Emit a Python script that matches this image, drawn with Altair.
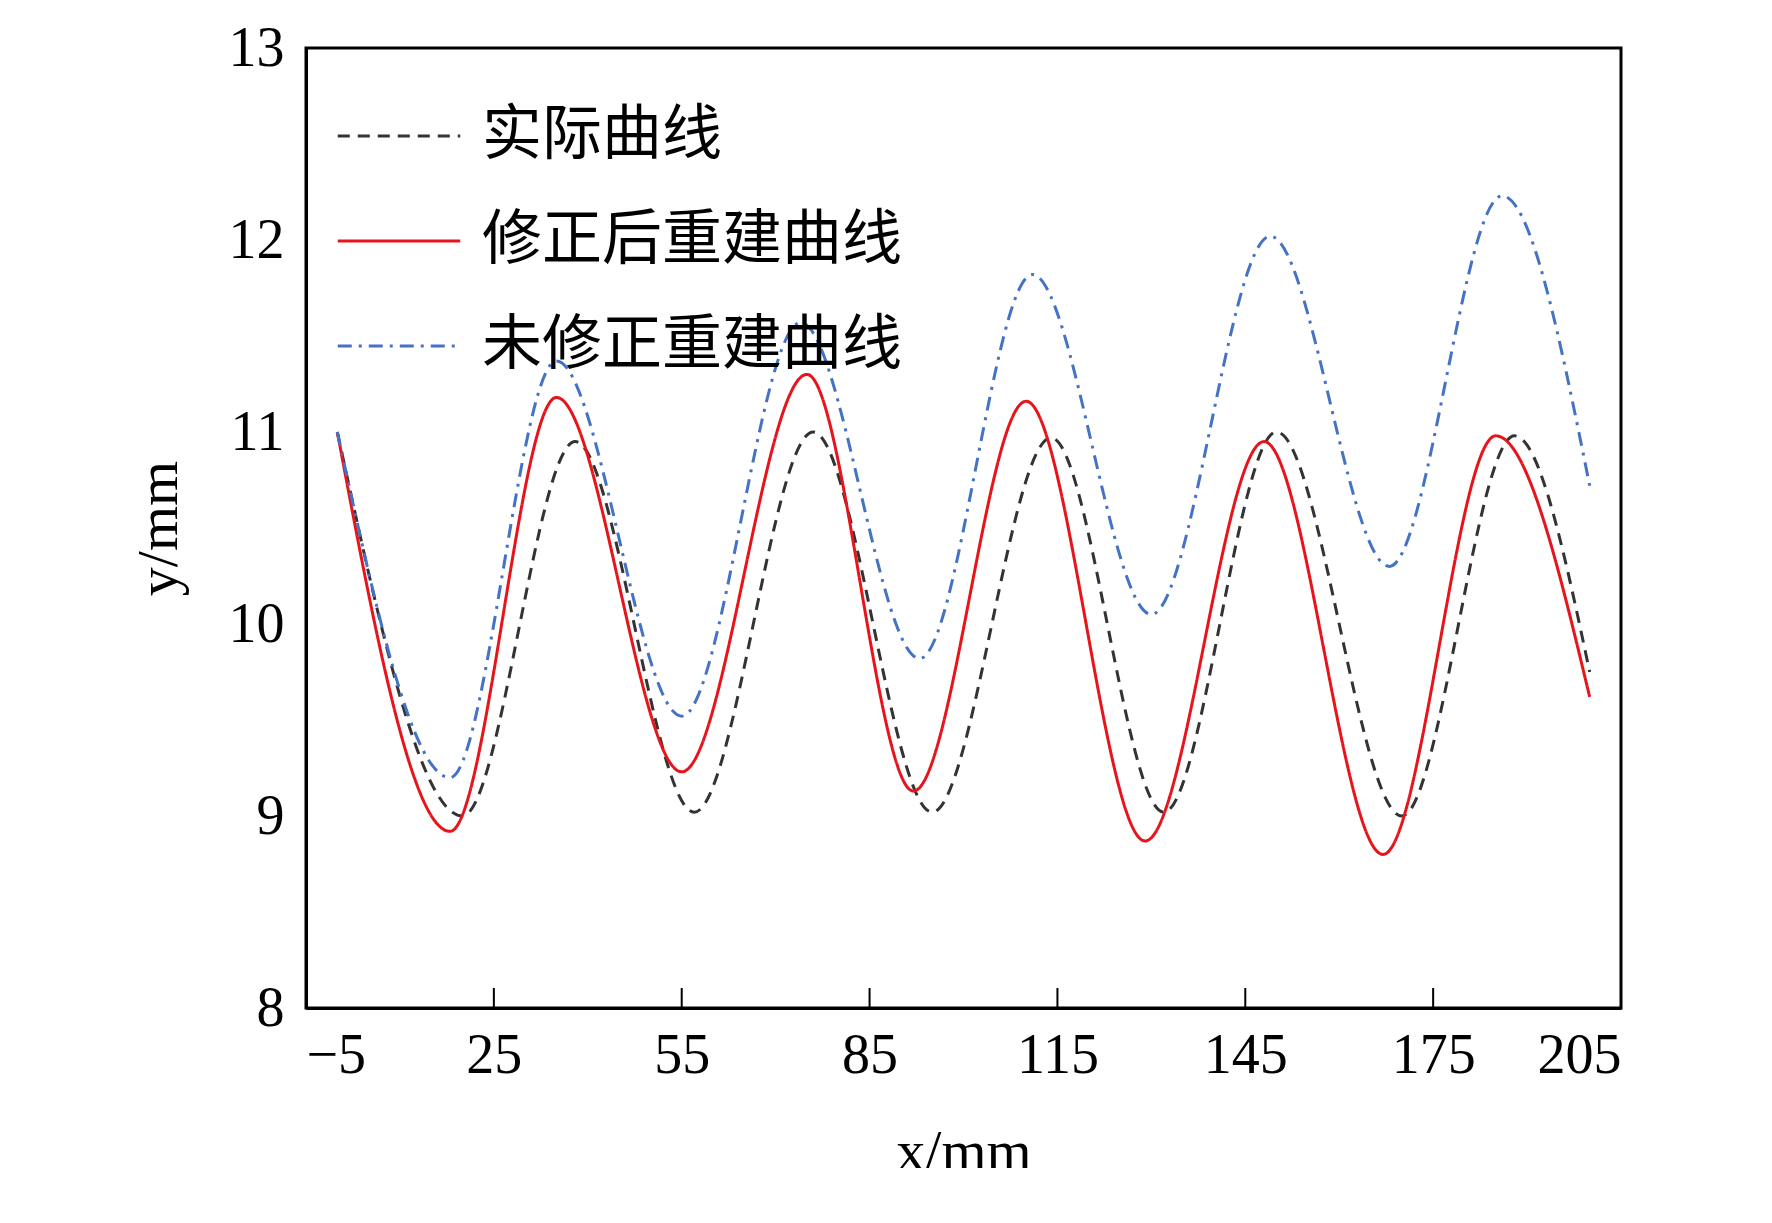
import pandas as pd
import altair as alt

# series (extrema + end points)
actual_x = [0, 20, 38, 57, 76, 95, 114, 132, 150, 170, 188, 200]
actual_y = [11.0, 9.0, 10.95, 9.02, 11.0, 9.02, 10.97, 9.02, 11.0, 9.0, 10.98, 9.75]
fixed_x = [0, 18, 35, 55, 75, 92, 110, 129, 148, 167, 185, 200]
fixed_y = [11.0, 8.92, 11.18, 9.23, 11.3, 9.13, 11.16, 8.87, 10.95, 8.8, 10.98, 9.62]
raw_x = [0, 18, 35, 55, 74, 93, 111, 130, 149, 168, 186, 200]
raw_y = [11.0, 9.2, 11.37, 9.52, 11.57, 9.82, 11.82, 10.05, 12.02, 10.3, 12.23, 10.72]
names = ['实际曲线', '修正后重建曲线', '未修正重建曲线']
x_ticks = [-5, 25, 55, 85, 115, 145, 175, 205]
y_ticks = [8, 9, 10, 11, 12, 13]

rows = []
for name, xs, ys in zip(names, [actual_x, fixed_x, raw_x], [actual_y, fixed_y, raw_y]):
    for i, (a, b) in enumerate(zip(xs, ys)):
        rows.append({'x': a, 'y': b, 'series': name, 'order': i})
df = pd.DataFrame(rows)

FONT = 'Liberation Serif, Noto Sans CJK SC'
W, H = 1315, 960

xs = alt.Scale(domain=[-5, 205], nice=False)
ys = alt.Scale(domain=[8, 13], nice=False)

lines = alt.Chart(df).mark_line(strokeWidth=3, interpolate='monotone').encode(
    x=alt.X('x:Q', scale=xs, title='x/mm',
            axis=alt.Axis(values=x_ticks, ticks=False, labelPadding=20, titlePadding=40)),
    y=alt.Y('y:Q', scale=ys, title='y/mm',
            axis=alt.Axis(values=y_ticks, ticks=False, labelPadding=22, titlePadding=40)),
    color=alt.Color('series:N', sort=names, title=None,
                    scale=alt.Scale(domain=names, range=['#333333', '#e8141c', '#4472c4']),
                    legend=alt.Legend(orient='none', legendX=30, legendY=25)),
    strokeDash=alt.StrokeDash('series:N', sort=names, title=None,
                              scale=alt.Scale(domain=names, range=[[12, 8], [1, 0], [14, 7, 3, 7]]),
                              legend=alt.Legend(orient='none', legendX=30, legendY=25)),
    order='order:Q',
)

ticks = alt.Chart(pd.DataFrame({'x': x_ticks[1:-1]})).mark_rule(color='black', strokeWidth=2).encode(
    x=alt.X('x:Q', scale=xs),
    y=alt.value(H),
    y2=alt.value(H - 20),
)

chart = (lines + ticks).properties(
    width=W, height=H,
    autosize=alt.AutoSizeParams(type='none'),
    padding={'left': 298, 'top': 40, 'right': 60, 'bottom': 160},
).configure_view(stroke='black', strokeWidth=3).configure_axis(
    domainColor='black', domainWidth=3, grid=False,
    labelFont=FONT, labelFontSize=56, labelColor='black',
    titleFont=FONT, titleFontSize=58, titleFontWeight='normal', titleColor='black',
).configure_legend(
    labelFont=FONT, labelFontSize=60, labelColor='black',
    symbolType='stroke', symbolSize=15000, symbolStrokeWidth=3, rowPadding=12,
    labelOffset=20, labelLimit=700,
)

chart.save("out.html", embed_options={"renderer": "svg", "actions": False})
